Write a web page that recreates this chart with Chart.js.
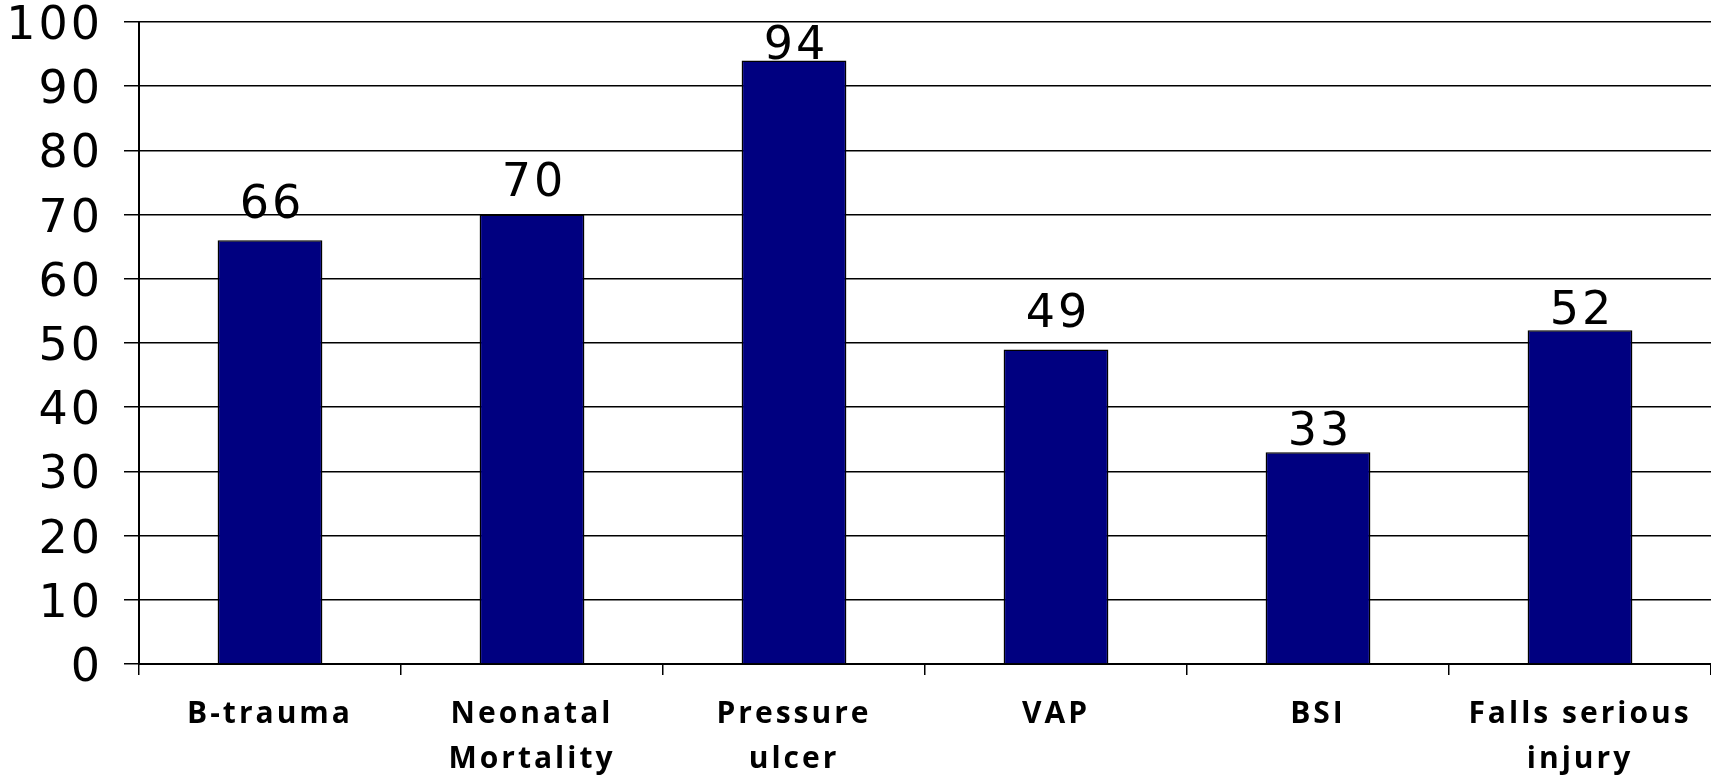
<!DOCTYPE html>
<html>
<head>
<meta charset="utf-8">
<script src="https://cdn.jsdelivr.net/npm/chart.js@4/dist/chart.umd.min.js"></script>
<style>
  html, body { margin: 0; padding: 0; background: #ffffff; }
  #wrap { width: 1711px; height: 775px; }
</style>
</head>
<body>
<div id="wrap"><canvas id="chart" width="1711" height="775"></canvas></div>
<script>
// Indicator categories (multi-line labels) and their values
const categories = [
  ["B-trauma"],
  ["Neonatal", "Mortality"],
  ["Pressure", "ulcer"],
  ["VAP"],
  ["BSI"],
  ["Falls serious", "injury"]
];
const values = [66, 70, 94, 49, 33, 52];

// Value axis range and step
const yMin = 0;
const yMax = 100;
const yStep = 10;

// Space between each bar top and its value label (px)
const labelGaps = [22, 19, 2, 22, 7, 6];

// Wide letter spacing used by all chart text
const spacingPlugin = {
  id: 'letterSpacing',
  beforeDraw(chart) {
    chart.ctx.letterSpacing = '3px';
  }
};

// Value labels above each bar
const valueLabelPlugin = {
  id: 'barValueLabels',
  afterDatasetsDraw(chart, args, opts) {
    const ctx = chart.ctx;
    const meta = chart.getDatasetMeta(0);
    ctx.save();
    ctx.letterSpacing = '3px';
    ctx.font = '46px "DejaVu Sans"';
    ctx.fillStyle = '#000000';
    ctx.textAlign = 'center';
    ctx.textBaseline = 'alphabetic';
    meta.data.forEach((bar, i) => {
      const v = chart.data.datasets[0].data[i];
      ctx.fillText(String(v), bar.x + 2, bar.y - opts.gaps[i]);
    });
    ctx.restore();
  }
};

new Chart(document.getElementById('chart'), {
  type: 'bar',
  data: {
    labels: categories,
    datasets: [{
      data: values,
      backgroundColor: '#000080',
      borderColor: '#000000',
      borderWidth: 1.5,
      borderSkipped: 'bottom',
      barPercentage: 0.4,
      categoryPercentage: 1.0
    }]
  },
  options: {
    responsive: false,
    animation: false,
    devicePixelRatio: 1,
    layout: { padding: { top: 22, right: 0, bottom: 0, left: 0 } },
    plugins: {
      legend: { display: false },
      tooltip: { enabled: false },
      barValueLabels: { gaps: labelGaps }
    },
    scales: {
      x: {
        offset: true,
        grid: {
          display: true,
          offset: true,
          drawOnChartArea: false,
          drawTicks: true,
          tickLength: 11,
          color: '#000000',
          lineWidth: 1.5
        },
        border: { display: true, color: '#000000', width: 2 },
        ticks: {
          color: '#000000',
          font: { family: '"Open Sans"', size: 30, weight: 'bold', lineHeight: 1.5 },
          padding: 17,
          maxRotation: 0,
          minRotation: 0,
          autoSkip: false
        },
        afterFit(scale) {
          scale.height = 111;
          scale.paddingLeft = 0;
          scale.paddingRight = 0;
        }
      },
      y: {
        min: yMin,
        max: yMax,
        grid: {
          color: '#000000',
          lineWidth: 1.5,
          drawTicks: true,
          tickLength: 15
        },
        border: { display: true, color: '#000000', width: 2 },
        ticks: {
          stepSize: yStep,
          color: '#000000',
          font: { family: '"DejaVu Sans"', size: 46 },
          padding: 21,
          labelOffset: 5
        },
        afterFit(scale) {
          scale.width = 139;
          scale.paddingTop = 0;
          scale.paddingBottom = 0;
        }
      }
    }
  },
  plugins: [spacingPlugin, valueLabelPlugin]
});
</script>
</body>
</html>
